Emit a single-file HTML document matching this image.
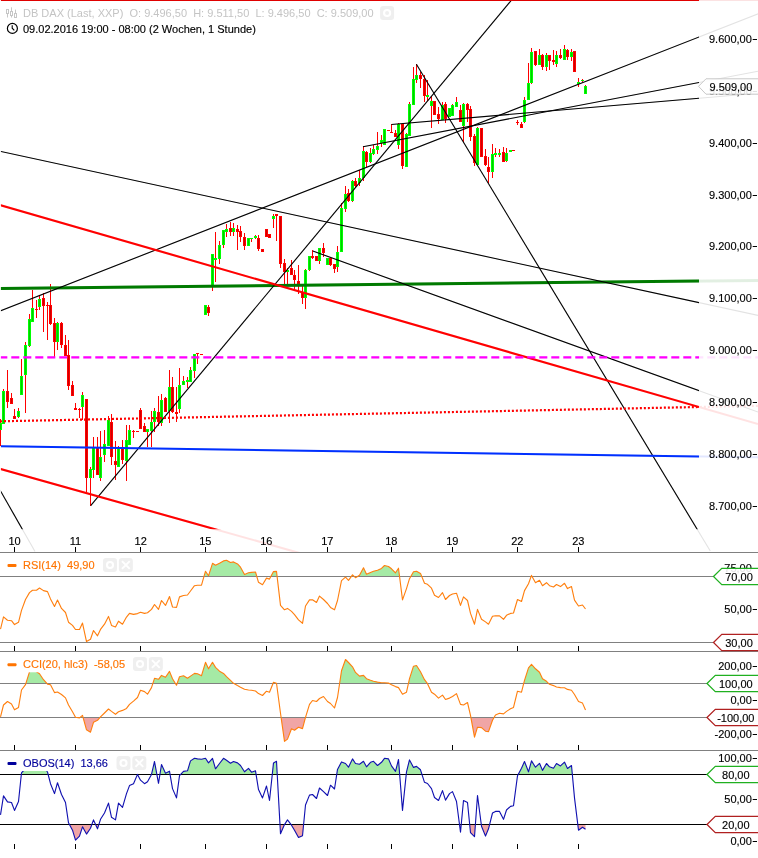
<!DOCTYPE html>
<html><head><meta charset="utf-8"><title>DB DAX</title>
<style>
html,body{margin:0;padding:0;background:#fff;}
body{width:758px;height:858px;overflow:hidden;font-family:"Liberation Sans",sans-serif;}
svg{display:block;will-change:transform}
svg text{font-family:"Liberation Sans",sans-serif;font-size:11px;}
svg text.k{stroke:#000;stroke-width:0.14px;}
</style></head><body>
<svg width="758" height="858" viewBox="0 0 758 858">
<rect width="758" height="858" fill="#fff"/>
<defs>
<clipPath id="plot"><rect x="0" y="0" width="699" height="529.2"/></clipPath>
<clipPath id="plotl"><rect x="1" y="0" width="698" height="529.2"/></clipPath>
<clipPath id="faint"><rect x="0" y="0" width="758" height="552"/></clipPath>
</defs>
<!-- faint extensions of trend lines outside plot area -->
<g opacity="0.11" clip-path="url(#faint)">
<line x1="0" y1="288.4" x2="758" y2="280.3753934191702" stroke="#007a00" stroke-width="3.0" />
<line x1="0" y1="151.3" x2="758" y2="315.3706723891273" stroke="#000" stroke-width="1.1" />
<line x1="0" y1="311" x2="790" y2="1.3290414878397314" stroke="#000" stroke-width="1.1" />
<line x1="90.7" y1="505.7" x2="511.6" y2="0" stroke="#000" stroke-width="1.1" />
<line x1="416.4" y1="64.3" x2="710.3" y2="551.0260513186029" stroke="#000" stroke-width="1.1" />
<line x1="363" y1="146.8" x2="758" y2="71.20922619047619" stroke="#000" stroke-width="1.1" />
<line x1="391.4" y1="124.5" x2="758" y2="93.27464239271782" stroke="#000" stroke-width="1.1" />
<line x1="312.8" y1="251" x2="758" y2="412.04205075090624" stroke="#000" stroke-width="1.1" />
<line x1="0" y1="490" x2="35" y2="551.5" stroke="#000" stroke-width="1.1" />
<line x1="0" y1="205" x2="758" y2="424.05007153075826" stroke="#f00" stroke-width="2.1" />
<line x1="0" y1="468.8" x2="300" y2="553.1157894736842" stroke="#f00" stroke-width="2.1" />
<line x1="-0.7" y1="357.3" x2="758" y2="357.3" stroke="#ff00ff" stroke-width="2.2" stroke-dasharray="8 4"/>
<line x1="0" y1="421.3" x2="758" y2="405.79298998569385" stroke="#f00" stroke-width="2.2" stroke-dasharray="2 2"/>
<line x1="0" y1="446.3" x2="758" y2="457.2525035765379" stroke="#0030ff" stroke-width="2.0" />
<line x1="0" y1="0" x2="758" y2="0" stroke="#e00000" stroke-width="2.2" />
</g>
<!-- main plot -->
<g clip-path="url(#plot)">
<g shape-rendering="crispEdges">
<rect x="0" y="419" width="1" height="27" fill="#ff0000"/>
<rect x="-1" y="423" width="3" height="7" fill="#00ff00"/>
<rect x="0" y="424" width="1" height="5" fill="#00cc00"/>
<rect x="3" y="389" width="1" height="35" fill="#ff0000"/>
<rect x="2" y="391" width="3" height="33" fill="#00ff00"/>
<rect x="3" y="392" width="1" height="31" fill="#00cc00"/>
<rect x="7" y="370" width="1" height="38" fill="#ff0000"/>
<rect x="6" y="391" width="3" height="11" fill="#ff0000"/>
<rect x="7" y="392" width="1" height="9" fill="#cc0000"/>
<rect x="11" y="393" width="1" height="11" fill="#ff0000"/>
<rect x="10" y="398" width="3" height="6" fill="#ff0000"/>
<rect x="11" y="399" width="1" height="4" fill="#cc0000"/>
<rect x="14" y="409" width="1" height="10" fill="#ff0000"/>
<rect x="13" y="416" width="3" height="3" fill="#ff0000"/>
<rect x="14" y="417" width="1" height="1" fill="#cc0000"/>
<rect x="18" y="408" width="1" height="10" fill="#ff0000"/>
<rect x="17" y="411" width="3" height="6" fill="#00ff00"/>
<rect x="18" y="412" width="1" height="4" fill="#00cc00"/>
<rect x="21" y="359" width="1" height="36" fill="#ff0000"/>
<rect x="20" y="376" width="3" height="19" fill="#00ff00"/>
<rect x="21" y="377" width="1" height="17" fill="#00cc00"/>
<rect x="25" y="342" width="1" height="71" fill="#ff0000"/>
<rect x="24" y="345" width="3" height="30" fill="#00ff00"/>
<rect x="25" y="346" width="1" height="28" fill="#00cc00"/>
<rect x="29" y="314" width="1" height="33" fill="#ff0000"/>
<rect x="28" y="319" width="3" height="27" fill="#00ff00"/>
<rect x="29" y="320" width="1" height="25" fill="#00cc00"/>
<rect x="32" y="290" width="1" height="32" fill="#ff0000"/>
<rect x="31" y="308" width="3" height="14" fill="#00ff00"/>
<rect x="32" y="309" width="1" height="12" fill="#00cc00"/>
<rect x="36" y="300" width="1" height="18" fill="#ff0000"/>
<rect x="35" y="309" width="3" height="1" fill="#ff0000"/>
<rect x="39" y="295" width="1" height="15" fill="#ff0000"/>
<rect x="38" y="299" width="3" height="8" fill="#00ff00"/>
<rect x="39" y="300" width="1" height="6" fill="#00cc00"/>
<rect x="43" y="293" width="1" height="39" fill="#ff0000"/>
<rect x="42" y="298" width="3" height="8" fill="#ff0000"/>
<rect x="43" y="299" width="1" height="6" fill="#cc0000"/>
<rect x="47" y="302" width="1" height="38" fill="#ff0000"/>
<rect x="46" y="305" width="3" height="1" fill="#ff0000"/>
<rect x="50" y="284" width="1" height="41" fill="#ff0000"/>
<rect x="49" y="305" width="3" height="19" fill="#ff0000"/>
<rect x="50" y="306" width="1" height="17" fill="#cc0000"/>
<rect x="54" y="318" width="1" height="40" fill="#ff0000"/>
<rect x="53" y="323" width="3" height="19" fill="#ff0000"/>
<rect x="54" y="324" width="1" height="17" fill="#cc0000"/>
<rect x="57" y="322" width="1" height="28" fill="#ff0000"/>
<rect x="56" y="323" width="3" height="19" fill="#00ff00"/>
<rect x="57" y="324" width="1" height="17" fill="#00cc00"/>
<rect x="61" y="322" width="1" height="26" fill="#ff0000"/>
<rect x="60" y="323" width="3" height="22" fill="#ff0000"/>
<rect x="61" y="324" width="1" height="20" fill="#cc0000"/>
<rect x="65" y="335" width="1" height="21" fill="#ff0000"/>
<rect x="64" y="345" width="3" height="11" fill="#ff0000"/>
<rect x="65" y="346" width="1" height="9" fill="#cc0000"/>
<rect x="68" y="340" width="1" height="50" fill="#ff0000"/>
<rect x="67" y="355" width="3" height="31" fill="#ff0000"/>
<rect x="68" y="356" width="1" height="29" fill="#cc0000"/>
<rect x="72" y="381" width="1" height="15" fill="#ff0000"/>
<rect x="71" y="385" width="3" height="11" fill="#ff0000"/>
<rect x="72" y="386" width="1" height="9" fill="#cc0000"/>
<rect x="75" y="403" width="1" height="7" fill="#ff0000"/>
<rect x="74" y="408" width="3" height="2" fill="#ff0000"/>
<rect x="79" y="408" width="1" height="10" fill="#ff0000"/>
<rect x="78" y="409" width="3" height="1" fill="#ff0000"/>
<rect x="82" y="392" width="1" height="28" fill="#ff0000"/>
<rect x="81" y="395" width="3" height="12" fill="#00ff00"/>
<rect x="82" y="396" width="1" height="10" fill="#00cc00"/>
<rect x="86" y="399" width="1" height="93" fill="#ff0000"/>
<rect x="85" y="399" width="3" height="79" fill="#ff0000"/>
<rect x="86" y="400" width="1" height="77" fill="#cc0000"/>
<rect x="90" y="467" width="1" height="39" fill="#ff0000"/>
<rect x="89" y="469" width="3" height="9" fill="#00ff00"/>
<rect x="90" y="470" width="1" height="7" fill="#00cc00"/>
<rect x="93" y="437" width="1" height="41" fill="#ff0000"/>
<rect x="92" y="447" width="3" height="23" fill="#00ff00"/>
<rect x="93" y="448" width="1" height="21" fill="#00cc00"/>
<rect x="97" y="437" width="1" height="38" fill="#ff0000"/>
<rect x="96" y="447" width="3" height="28" fill="#ff0000"/>
<rect x="97" y="448" width="1" height="26" fill="#cc0000"/>
<rect x="100" y="431" width="1" height="50" fill="#ff0000"/>
<rect x="99" y="457" width="3" height="21" fill="#00ff00"/>
<rect x="100" y="458" width="1" height="19" fill="#00cc00"/>
<rect x="104" y="430" width="1" height="32" fill="#ff0000"/>
<rect x="103" y="444" width="3" height="11" fill="#00ff00"/>
<rect x="104" y="445" width="1" height="9" fill="#00cc00"/>
<rect x="108" y="416" width="1" height="30" fill="#ff0000"/>
<rect x="107" y="420" width="3" height="26" fill="#00ff00"/>
<rect x="108" y="421" width="1" height="24" fill="#00cc00"/>
<rect x="111" y="414" width="1" height="51" fill="#ff0000"/>
<rect x="110" y="422" width="3" height="35" fill="#ff0000"/>
<rect x="111" y="423" width="1" height="33" fill="#cc0000"/>
<rect x="115" y="441" width="1" height="39" fill="#ff0000"/>
<rect x="114" y="461" width="3" height="4" fill="#ff0000"/>
<rect x="115" y="462" width="1" height="2" fill="#cc0000"/>
<rect x="118" y="446" width="1" height="21" fill="#ff0000"/>
<rect x="117" y="448" width="3" height="19" fill="#00ff00"/>
<rect x="118" y="449" width="1" height="17" fill="#00cc00"/>
<rect x="122" y="440" width="1" height="24" fill="#ff0000"/>
<rect x="121" y="447" width="3" height="13" fill="#ff0000"/>
<rect x="122" y="448" width="1" height="11" fill="#cc0000"/>
<rect x="126" y="425" width="1" height="56" fill="#ff0000"/>
<rect x="125" y="440" width="3" height="21" fill="#00ff00"/>
<rect x="126" y="441" width="1" height="19" fill="#00cc00"/>
<rect x="129" y="425" width="1" height="20" fill="#ff0000"/>
<rect x="128" y="430" width="3" height="15" fill="#00ff00"/>
<rect x="129" y="431" width="1" height="13" fill="#00cc00"/>
<rect x="133" y="430" width="1" height="8" fill="#ff0000"/>
<rect x="132" y="431" width="3" height="1" fill="#ff0000"/>
<rect x="137" y="431" width="1" height="1" fill="#ff0000"/>
<rect x="136" y="431" width="3" height="1" fill="#ff0000"/>
<rect x="140" y="408" width="1" height="21" fill="#ff0000"/>
<rect x="139" y="410" width="3" height="19" fill="#ff0000"/>
<rect x="140" y="411" width="1" height="17" fill="#cc0000"/>
<rect x="144" y="423" width="1" height="9" fill="#ff0000"/>
<rect x="143" y="426" width="3" height="6" fill="#ff0000"/>
<rect x="144" y="427" width="1" height="4" fill="#cc0000"/>
<rect x="147" y="429" width="1" height="18" fill="#ff0000"/>
<rect x="146" y="429" width="3" height="3" fill="#00ff00"/>
<rect x="147" y="430" width="1" height="1" fill="#00cc00"/>
<rect x="151" y="411" width="1" height="36" fill="#ff0000"/>
<rect x="150" y="422" width="3" height="9" fill="#00ff00"/>
<rect x="151" y="423" width="1" height="7" fill="#00cc00"/>
<rect x="154" y="408" width="1" height="24" fill="#ff0000"/>
<rect x="153" y="411" width="3" height="11" fill="#00ff00"/>
<rect x="154" y="412" width="1" height="9" fill="#00cc00"/>
<rect x="158" y="396" width="1" height="30" fill="#ff0000"/>
<rect x="157" y="412" width="3" height="10" fill="#ff0000"/>
<rect x="158" y="413" width="1" height="8" fill="#cc0000"/>
<rect x="161" y="394" width="1" height="32" fill="#ff0000"/>
<rect x="160" y="400" width="3" height="23" fill="#00ff00"/>
<rect x="161" y="401" width="1" height="21" fill="#00cc00"/>
<rect x="165" y="397" width="1" height="15" fill="#ff0000"/>
<rect x="164" y="398" width="3" height="14" fill="#ff0000"/>
<rect x="165" y="399" width="1" height="12" fill="#cc0000"/>
<rect x="169" y="370" width="1" height="53" fill="#ff0000"/>
<rect x="168" y="387" width="3" height="24" fill="#00ff00"/>
<rect x="169" y="388" width="1" height="22" fill="#00cc00"/>
<rect x="172" y="377" width="1" height="36" fill="#ff0000"/>
<rect x="171" y="387" width="3" height="25" fill="#ff0000"/>
<rect x="172" y="388" width="1" height="23" fill="#cc0000"/>
<rect x="176" y="387" width="1" height="35" fill="#ff0000"/>
<rect x="175" y="412" width="3" height="2" fill="#ff0000"/>
<rect x="179" y="368" width="1" height="45" fill="#ff0000"/>
<rect x="178" y="385" width="3" height="24" fill="#00ff00"/>
<rect x="179" y="386" width="1" height="22" fill="#00cc00"/>
<rect x="183" y="376" width="1" height="9" fill="#ff0000"/>
<rect x="182" y="381" width="3" height="4" fill="#00ff00"/>
<rect x="183" y="382" width="1" height="2" fill="#00cc00"/>
<rect x="187" y="377" width="1" height="11" fill="#ff0000"/>
<rect x="186" y="380" width="3" height="2" fill="#00ff00"/>
<rect x="190" y="367" width="1" height="15" fill="#ff0000"/>
<rect x="189" y="370" width="3" height="12" fill="#00ff00"/>
<rect x="190" y="371" width="1" height="10" fill="#00cc00"/>
<rect x="194" y="354" width="1" height="24" fill="#ff0000"/>
<rect x="193" y="354" width="3" height="17" fill="#00ff00"/>
<rect x="194" y="355" width="1" height="15" fill="#00cc00"/>
<rect x="197" y="353" width="1" height="11" fill="#ff0000"/>
<rect x="196" y="353" width="3" height="1" fill="#ff0000"/>
<rect x="201" y="354" width="1" height="1" fill="#ff0000"/>
<rect x="200" y="354" width="3" height="1" fill="#ff0000"/>
<rect x="205" y="305" width="1" height="10" fill="#ff0000"/>
<rect x="204" y="305" width="3" height="10" fill="#00ff00"/>
<rect x="205" y="306" width="1" height="8" fill="#00cc00"/>
<rect x="208" y="305" width="1" height="11" fill="#ff0000"/>
<rect x="207" y="307" width="3" height="6" fill="#ff0000"/>
<rect x="208" y="308" width="1" height="4" fill="#cc0000"/>
<rect x="212" y="254" width="1" height="37" fill="#ff0000"/>
<rect x="211" y="254" width="3" height="33" fill="#00ff00"/>
<rect x="212" y="255" width="1" height="31" fill="#00cc00"/>
<rect x="215" y="232" width="1" height="50" fill="#ff0000"/>
<rect x="214" y="258" width="3" height="2" fill="#00ff00"/>
<rect x="219" y="241" width="1" height="23" fill="#ff0000"/>
<rect x="218" y="245" width="3" height="14" fill="#00ff00"/>
<rect x="219" y="246" width="1" height="12" fill="#00cc00"/>
<rect x="223" y="230" width="1" height="18" fill="#ff0000"/>
<rect x="222" y="230" width="3" height="15" fill="#00ff00"/>
<rect x="223" y="231" width="1" height="13" fill="#00cc00"/>
<rect x="226" y="224" width="1" height="13" fill="#ff0000"/>
<rect x="225" y="229" width="3" height="3" fill="#00ff00"/>
<rect x="226" y="230" width="1" height="1" fill="#00cc00"/>
<rect x="230" y="222" width="1" height="14" fill="#ff0000"/>
<rect x="229" y="228" width="3" height="4" fill="#ff0000"/>
<rect x="230" y="229" width="1" height="2" fill="#cc0000"/>
<rect x="233" y="223" width="1" height="13" fill="#ff0000"/>
<rect x="232" y="228" width="3" height="4" fill="#00ff00"/>
<rect x="233" y="229" width="1" height="2" fill="#00cc00"/>
<rect x="237" y="225" width="1" height="25" fill="#ff0000"/>
<rect x="236" y="229" width="3" height="3" fill="#ff0000"/>
<rect x="237" y="230" width="1" height="1" fill="#cc0000"/>
<rect x="240" y="226" width="1" height="16" fill="#ff0000"/>
<rect x="239" y="231" width="3" height="6" fill="#ff0000"/>
<rect x="240" y="232" width="1" height="4" fill="#cc0000"/>
<rect x="244" y="233" width="1" height="17" fill="#ff0000"/>
<rect x="243" y="237" width="3" height="9" fill="#ff0000"/>
<rect x="244" y="238" width="1" height="7" fill="#cc0000"/>
<rect x="248" y="238" width="1" height="8" fill="#ff0000"/>
<rect x="247" y="238" width="3" height="8" fill="#00ff00"/>
<rect x="248" y="239" width="1" height="6" fill="#00cc00"/>
<rect x="251" y="238" width="1" height="4" fill="#ff0000"/>
<rect x="250" y="238" width="3" height="1" fill="#00ff00"/>
<rect x="255" y="235" width="1" height="4" fill="#ff0000"/>
<rect x="254" y="236" width="3" height="2" fill="#00ff00"/>
<rect x="258" y="235" width="1" height="16" fill="#ff0000"/>
<rect x="257" y="238" width="3" height="11" fill="#ff0000"/>
<rect x="258" y="239" width="1" height="9" fill="#cc0000"/>
<rect x="262" y="249" width="1" height="3" fill="#ff0000"/>
<rect x="261" y="249" width="3" height="3" fill="#ff0000"/>
<rect x="262" y="250" width="1" height="1" fill="#cc0000"/>
<rect x="266" y="229" width="1" height="8" fill="#ff0000"/>
<rect x="265" y="229" width="3" height="8" fill="#ff0000"/>
<rect x="266" y="230" width="1" height="6" fill="#cc0000"/>
<rect x="269" y="234" width="1" height="4" fill="#ff0000"/>
<rect x="268" y="234" width="3" height="4" fill="#ff0000"/>
<rect x="269" y="235" width="1" height="2" fill="#cc0000"/>
<rect x="273" y="214" width="1" height="14" fill="#ff0000"/>
<rect x="272" y="216" width="3" height="3" fill="#00ff00"/>
<rect x="273" y="217" width="1" height="1" fill="#00cc00"/>
<rect x="276" y="214" width="1" height="27" fill="#ff0000"/>
<rect x="275" y="214" width="3" height="2" fill="#ff0000"/>
<rect x="280" y="216" width="1" height="52" fill="#ff0000"/>
<rect x="279" y="216" width="3" height="48" fill="#ff0000"/>
<rect x="280" y="217" width="1" height="46" fill="#cc0000"/>
<rect x="284" y="259" width="1" height="25" fill="#ff0000"/>
<rect x="283" y="263" width="3" height="9" fill="#ff0000"/>
<rect x="284" y="264" width="1" height="7" fill="#cc0000"/>
<rect x="287" y="268" width="1" height="16" fill="#ff0000"/>
<rect x="286" y="270" width="3" height="2" fill="#00ff00"/>
<rect x="291" y="260" width="1" height="15" fill="#ff0000"/>
<rect x="290" y="268" width="3" height="7" fill="#ff0000"/>
<rect x="291" y="269" width="1" height="5" fill="#cc0000"/>
<rect x="294" y="270" width="1" height="20" fill="#ff0000"/>
<rect x="293" y="275" width="3" height="5" fill="#ff0000"/>
<rect x="294" y="276" width="1" height="3" fill="#cc0000"/>
<rect x="298" y="265" width="1" height="29" fill="#ff0000"/>
<rect x="297" y="281" width="3" height="3" fill="#ff0000"/>
<rect x="298" y="282" width="1" height="1" fill="#cc0000"/>
<rect x="302" y="284" width="1" height="20" fill="#ff0000"/>
<rect x="301" y="292" width="3" height="6" fill="#ff0000"/>
<rect x="302" y="293" width="1" height="4" fill="#cc0000"/>
<rect x="305" y="269" width="1" height="40" fill="#ff0000"/>
<rect x="304" y="270" width="3" height="28" fill="#00ff00"/>
<rect x="305" y="271" width="1" height="26" fill="#00cc00"/>
<rect x="309" y="256" width="1" height="15" fill="#ff0000"/>
<rect x="308" y="256" width="3" height="14" fill="#00ff00"/>
<rect x="309" y="257" width="1" height="12" fill="#00cc00"/>
<rect x="312" y="250" width="1" height="9" fill="#ff0000"/>
<rect x="311" y="256" width="3" height="2" fill="#ff0000"/>
<rect x="316" y="256" width="1" height="5" fill="#ff0000"/>
<rect x="315" y="256" width="3" height="5" fill="#ff0000"/>
<rect x="316" y="257" width="1" height="3" fill="#cc0000"/>
<rect x="319" y="248" width="1" height="16" fill="#ff0000"/>
<rect x="318" y="248" width="3" height="13" fill="#00ff00"/>
<rect x="319" y="249" width="1" height="11" fill="#00cc00"/>
<rect x="323" y="243" width="1" height="14" fill="#ff0000"/>
<rect x="322" y="248" width="3" height="5" fill="#ff0000"/>
<rect x="323" y="249" width="1" height="3" fill="#cc0000"/>
<rect x="327" y="258" width="1" height="7" fill="#ff0000"/>
<rect x="326" y="258" width="3" height="7" fill="#00ff00"/>
<rect x="327" y="259" width="1" height="5" fill="#00cc00"/>
<rect x="330" y="258" width="1" height="8" fill="#ff0000"/>
<rect x="329" y="258" width="3" height="7" fill="#ff0000"/>
<rect x="330" y="259" width="1" height="5" fill="#cc0000"/>
<rect x="334" y="264" width="1" height="9" fill="#ff0000"/>
<rect x="333" y="264" width="3" height="5" fill="#ff0000"/>
<rect x="334" y="265" width="1" height="3" fill="#cc0000"/>
<rect x="337" y="246" width="1" height="26" fill="#ff0000"/>
<rect x="336" y="252" width="3" height="15" fill="#00ff00"/>
<rect x="337" y="253" width="1" height="13" fill="#00cc00"/>
<rect x="341" y="203" width="1" height="49" fill="#ff0000"/>
<rect x="340" y="208" width="3" height="44" fill="#00ff00"/>
<rect x="341" y="209" width="1" height="42" fill="#00cc00"/>
<rect x="345" y="186" width="1" height="26" fill="#ff0000"/>
<rect x="344" y="194" width="3" height="15" fill="#00ff00"/>
<rect x="345" y="195" width="1" height="13" fill="#00cc00"/>
<rect x="348" y="189" width="1" height="13" fill="#ff0000"/>
<rect x="347" y="193" width="3" height="8" fill="#ff0000"/>
<rect x="348" y="194" width="1" height="6" fill="#cc0000"/>
<rect x="352" y="180" width="1" height="22" fill="#ff0000"/>
<rect x="351" y="181" width="3" height="20" fill="#00ff00"/>
<rect x="352" y="182" width="1" height="18" fill="#00cc00"/>
<rect x="355" y="178" width="1" height="10" fill="#ff0000"/>
<rect x="354" y="181" width="3" height="5" fill="#ff0000"/>
<rect x="355" y="182" width="1" height="3" fill="#cc0000"/>
<rect x="359" y="170" width="1" height="16" fill="#ff0000"/>
<rect x="358" y="178" width="3" height="5" fill="#00ff00"/>
<rect x="359" y="179" width="1" height="3" fill="#00cc00"/>
<rect x="363" y="146" width="1" height="35" fill="#ff0000"/>
<rect x="362" y="151" width="3" height="27" fill="#00ff00"/>
<rect x="363" y="152" width="1" height="25" fill="#00cc00"/>
<rect x="366" y="151" width="1" height="16" fill="#ff0000"/>
<rect x="365" y="152" width="3" height="10" fill="#ff0000"/>
<rect x="366" y="153" width="1" height="8" fill="#cc0000"/>
<rect x="370" y="148" width="1" height="15" fill="#ff0000"/>
<rect x="369" y="153" width="3" height="9" fill="#00ff00"/>
<rect x="370" y="154" width="1" height="7" fill="#00cc00"/>
<rect x="373" y="145" width="1" height="10" fill="#ff0000"/>
<rect x="372" y="149" width="3" height="5" fill="#00ff00"/>
<rect x="373" y="150" width="1" height="3" fill="#00cc00"/>
<rect x="377" y="132" width="1" height="22" fill="#ff0000"/>
<rect x="376" y="146" width="3" height="4" fill="#00ff00"/>
<rect x="377" y="147" width="1" height="2" fill="#00cc00"/>
<rect x="381" y="135" width="1" height="12" fill="#ff0000"/>
<rect x="380" y="140" width="3" height="3" fill="#00ff00"/>
<rect x="381" y="141" width="1" height="1" fill="#00cc00"/>
<rect x="384" y="129" width="1" height="16" fill="#ff0000"/>
<rect x="383" y="129" width="3" height="16" fill="#00ff00"/>
<rect x="384" y="130" width="1" height="14" fill="#00cc00"/>
<rect x="388" y="130" width="1" height="1" fill="#ff0000"/>
<rect x="387" y="130" width="3" height="1" fill="#ff0000"/>
<rect x="391" y="124" width="1" height="9" fill="#ff0000"/>
<rect x="390" y="132" width="3" height="1" fill="#ff0000"/>
<rect x="395" y="130" width="1" height="7" fill="#ff0000"/>
<rect x="394" y="133" width="3" height="4" fill="#ff0000"/>
<rect x="395" y="134" width="1" height="2" fill="#cc0000"/>
<rect x="398" y="123" width="1" height="26" fill="#ff0000"/>
<rect x="397" y="124" width="3" height="21" fill="#00ff00"/>
<rect x="398" y="125" width="1" height="19" fill="#00cc00"/>
<rect x="402" y="124" width="1" height="45" fill="#ff0000"/>
<rect x="401" y="124" width="3" height="42" fill="#ff0000"/>
<rect x="402" y="125" width="1" height="40" fill="#cc0000"/>
<rect x="406" y="133" width="1" height="34" fill="#ff0000"/>
<rect x="405" y="134" width="3" height="33" fill="#00ff00"/>
<rect x="406" y="135" width="1" height="31" fill="#00cc00"/>
<rect x="409" y="102" width="1" height="34" fill="#ff0000"/>
<rect x="408" y="104" width="3" height="32" fill="#00ff00"/>
<rect x="409" y="105" width="1" height="30" fill="#00cc00"/>
<rect x="413" y="67" width="1" height="38" fill="#ff0000"/>
<rect x="412" y="79" width="3" height="26" fill="#00ff00"/>
<rect x="413" y="80" width="1" height="24" fill="#00cc00"/>
<rect x="416" y="64" width="1" height="19" fill="#ff0000"/>
<rect x="415" y="75" width="3" height="5" fill="#00ff00"/>
<rect x="416" y="76" width="1" height="3" fill="#00cc00"/>
<rect x="420" y="72" width="1" height="16" fill="#ff0000"/>
<rect x="419" y="75" width="3" height="4" fill="#ff0000"/>
<rect x="420" y="76" width="1" height="2" fill="#cc0000"/>
<rect x="424" y="75" width="1" height="27" fill="#ff0000"/>
<rect x="423" y="79" width="3" height="17" fill="#ff0000"/>
<rect x="424" y="80" width="1" height="15" fill="#cc0000"/>
<rect x="427" y="80" width="1" height="21" fill="#ff0000"/>
<rect x="426" y="95" width="3" height="2" fill="#00ff00"/>
<rect x="431" y="96" width="1" height="32" fill="#ff0000"/>
<rect x="430" y="101" width="3" height="5" fill="#00ff00"/>
<rect x="431" y="102" width="1" height="3" fill="#00cc00"/>
<rect x="434" y="101" width="1" height="14" fill="#ff0000"/>
<rect x="433" y="101" width="3" height="14" fill="#ff0000"/>
<rect x="434" y="102" width="1" height="12" fill="#cc0000"/>
<rect x="438" y="107" width="1" height="17" fill="#ff0000"/>
<rect x="437" y="114" width="3" height="5" fill="#ff0000"/>
<rect x="438" y="115" width="1" height="3" fill="#cc0000"/>
<rect x="442" y="102" width="1" height="18" fill="#ff0000"/>
<rect x="441" y="105" width="3" height="15" fill="#00ff00"/>
<rect x="442" y="106" width="1" height="13" fill="#00cc00"/>
<rect x="445" y="102" width="1" height="21" fill="#ff0000"/>
<rect x="444" y="104" width="3" height="15" fill="#ff0000"/>
<rect x="445" y="105" width="1" height="13" fill="#cc0000"/>
<rect x="449" y="108" width="1" height="9" fill="#ff0000"/>
<rect x="448" y="108" width="3" height="9" fill="#00ff00"/>
<rect x="449" y="109" width="1" height="7" fill="#00cc00"/>
<rect x="452" y="104" width="1" height="12" fill="#ff0000"/>
<rect x="451" y="105" width="3" height="11" fill="#00ff00"/>
<rect x="452" y="106" width="1" height="9" fill="#00cc00"/>
<rect x="456" y="97" width="1" height="10" fill="#ff0000"/>
<rect x="455" y="102" width="3" height="5" fill="#00ff00"/>
<rect x="456" y="103" width="1" height="3" fill="#00cc00"/>
<rect x="460" y="105" width="1" height="17" fill="#ff0000"/>
<rect x="459" y="110" width="3" height="12" fill="#ff0000"/>
<rect x="460" y="111" width="1" height="10" fill="#cc0000"/>
<rect x="463" y="103" width="1" height="39" fill="#ff0000"/>
<rect x="462" y="104" width="3" height="22" fill="#00ff00"/>
<rect x="463" y="105" width="1" height="20" fill="#00cc00"/>
<rect x="467" y="103" width="1" height="19" fill="#ff0000"/>
<rect x="466" y="104" width="3" height="6" fill="#ff0000"/>
<rect x="467" y="105" width="1" height="4" fill="#cc0000"/>
<rect x="470" y="106" width="1" height="35" fill="#ff0000"/>
<rect x="469" y="109" width="3" height="28" fill="#ff0000"/>
<rect x="470" y="110" width="1" height="26" fill="#cc0000"/>
<rect x="474" y="134" width="1" height="32" fill="#ff0000"/>
<rect x="473" y="136" width="3" height="27" fill="#ff0000"/>
<rect x="474" y="137" width="1" height="25" fill="#cc0000"/>
<rect x="477" y="127" width="1" height="38" fill="#ff0000"/>
<rect x="476" y="128" width="3" height="37" fill="#00ff00"/>
<rect x="477" y="129" width="1" height="35" fill="#00cc00"/>
<rect x="481" y="128" width="1" height="29" fill="#ff0000"/>
<rect x="480" y="128" width="3" height="29" fill="#ff0000"/>
<rect x="481" y="129" width="1" height="27" fill="#cc0000"/>
<rect x="485" y="149" width="1" height="17" fill="#ff0000"/>
<rect x="484" y="156" width="3" height="9" fill="#ff0000"/>
<rect x="485" y="157" width="1" height="7" fill="#cc0000"/>
<rect x="488" y="157" width="1" height="26" fill="#ff0000"/>
<rect x="487" y="167" width="3" height="5" fill="#ff0000"/>
<rect x="488" y="168" width="1" height="3" fill="#cc0000"/>
<rect x="492" y="144" width="1" height="34" fill="#ff0000"/>
<rect x="491" y="154" width="3" height="18" fill="#00ff00"/>
<rect x="492" y="155" width="1" height="16" fill="#00cc00"/>
<rect x="495" y="148" width="1" height="9" fill="#ff0000"/>
<rect x="494" y="153" width="3" height="2" fill="#00ff00"/>
<rect x="499" y="149" width="1" height="8" fill="#ff0000"/>
<rect x="498" y="153" width="3" height="2" fill="#00ff00"/>
<rect x="503" y="147" width="1" height="15" fill="#ff0000"/>
<rect x="502" y="152" width="3" height="10" fill="#ff0000"/>
<rect x="503" y="153" width="1" height="8" fill="#cc0000"/>
<rect x="506" y="148" width="1" height="14" fill="#ff0000"/>
<rect x="505" y="153" width="3" height="8" fill="#00ff00"/>
<rect x="506" y="154" width="1" height="6" fill="#00cc00"/>
<rect x="510" y="150" width="1" height="2" fill="#ff0000"/>
<rect x="509" y="150" width="3" height="2" fill="#00ff00"/>
<rect x="513" y="150" width="1" height="1" fill="#ff0000"/>
<rect x="512" y="150" width="3" height="1" fill="#ff0000"/>
<rect x="517" y="120" width="1" height="5" fill="#ff0000"/>
<rect x="516" y="122" width="3" height="1" fill="#ff0000"/>
<rect x="521" y="122" width="1" height="6" fill="#ff0000"/>
<rect x="520" y="124" width="3" height="4" fill="#ff0000"/>
<rect x="521" y="125" width="1" height="2" fill="#cc0000"/>
<rect x="524" y="97" width="1" height="26" fill="#ff0000"/>
<rect x="523" y="100" width="3" height="22" fill="#00ff00"/>
<rect x="524" y="101" width="1" height="20" fill="#00cc00"/>
<rect x="528" y="63" width="1" height="37" fill="#ff0000"/>
<rect x="527" y="83" width="3" height="17" fill="#00ff00"/>
<rect x="528" y="84" width="1" height="15" fill="#00cc00"/>
<rect x="531" y="48" width="1" height="36" fill="#ff0000"/>
<rect x="530" y="52" width="3" height="31" fill="#00ff00"/>
<rect x="531" y="53" width="1" height="29" fill="#00cc00"/>
<rect x="535" y="51" width="1" height="15" fill="#ff0000"/>
<rect x="534" y="51" width="3" height="14" fill="#ff0000"/>
<rect x="535" y="52" width="1" height="12" fill="#cc0000"/>
<rect x="539" y="49" width="1" height="16" fill="#ff0000"/>
<rect x="538" y="55" width="3" height="10" fill="#00ff00"/>
<rect x="539" y="56" width="1" height="8" fill="#00cc00"/>
<rect x="542" y="54" width="1" height="16" fill="#ff0000"/>
<rect x="541" y="55" width="3" height="12" fill="#ff0000"/>
<rect x="542" y="56" width="1" height="10" fill="#cc0000"/>
<rect x="546" y="53" width="1" height="18" fill="#ff0000"/>
<rect x="545" y="55" width="3" height="12" fill="#00ff00"/>
<rect x="546" y="56" width="1" height="10" fill="#00cc00"/>
<rect x="549" y="55" width="1" height="15" fill="#ff0000"/>
<rect x="548" y="55" width="3" height="6" fill="#ff0000"/>
<rect x="549" y="56" width="1" height="4" fill="#cc0000"/>
<rect x="553" y="50" width="1" height="15" fill="#ff0000"/>
<rect x="552" y="60" width="3" height="2" fill="#ff0000"/>
<rect x="556" y="51" width="1" height="16" fill="#ff0000"/>
<rect x="555" y="55" width="3" height="9" fill="#00ff00"/>
<rect x="556" y="56" width="1" height="7" fill="#00cc00"/>
<rect x="560" y="49" width="1" height="10" fill="#ff0000"/>
<rect x="559" y="55" width="3" height="3" fill="#ff0000"/>
<rect x="560" y="56" width="1" height="1" fill="#cc0000"/>
<rect x="564" y="45" width="1" height="15" fill="#ff0000"/>
<rect x="563" y="49" width="3" height="11" fill="#00ff00"/>
<rect x="564" y="50" width="1" height="9" fill="#00cc00"/>
<rect x="567" y="49" width="1" height="11" fill="#ff0000"/>
<rect x="566" y="50" width="3" height="7" fill="#ff0000"/>
<rect x="567" y="51" width="1" height="5" fill="#cc0000"/>
<rect x="571" y="49" width="1" height="12" fill="#ff0000"/>
<rect x="570" y="52" width="3" height="5" fill="#00ff00"/>
<rect x="571" y="53" width="1" height="3" fill="#00cc00"/>
<rect x="574" y="51" width="1" height="21" fill="#ff0000"/>
<rect x="573" y="51" width="3" height="21" fill="#ff0000"/>
<rect x="574" y="52" width="1" height="19" fill="#cc0000"/>
<rect x="578" y="78" width="1" height="9" fill="#ff0000"/>
<rect x="577" y="82" width="3" height="2" fill="#00ff00"/>
<rect x="582" y="79" width="1" height="3" fill="#ff0000"/>
<rect x="581" y="80" width="3" height="1" fill="#00ff00"/>
<rect x="585" y="85" width="1" height="9" fill="#ff0000"/>
<rect x="584" y="86" width="3" height="8" fill="#00ff00"/>
<rect x="585" y="87" width="1" height="6" fill="#00cc00"/>
</g>
</g>
<g clip-path="url(#plotl)">
<line x1="0" y1="288.4" x2="758" y2="280.3753934191702" stroke="#007a00" stroke-width="3.0" />
<line x1="0" y1="151.3" x2="758" y2="315.3706723891273" stroke="#000" stroke-width="1.1" />
<line x1="0" y1="311" x2="790" y2="1.3290414878397314" stroke="#000" stroke-width="1.1" />
<line x1="90.7" y1="505.7" x2="511.6" y2="0" stroke="#000" stroke-width="1.1" />
<line x1="416.4" y1="64.3" x2="710.3" y2="551.0260513186029" stroke="#000" stroke-width="1.1" />
<line x1="363" y1="146.8" x2="758" y2="71.20922619047619" stroke="#000" stroke-width="1.1" />
<line x1="391.4" y1="124.5" x2="758" y2="93.27464239271782" stroke="#000" stroke-width="1.1" />
<line x1="312.8" y1="251" x2="758" y2="412.04205075090624" stroke="#000" stroke-width="1.1" />
<line x1="0" y1="490" x2="35" y2="551.5" stroke="#000" stroke-width="1.1" />
<line x1="0" y1="205" x2="758" y2="424.05007153075826" stroke="#f00" stroke-width="2.1" />
<line x1="0" y1="468.8" x2="300" y2="553.1157894736842" stroke="#f00" stroke-width="2.1" />
<line x1="-0.7" y1="357.3" x2="758" y2="357.3" stroke="#ff00ff" stroke-width="2.2" stroke-dasharray="8 4"/>
<line x1="0" y1="421.3" x2="758" y2="405.79298998569385" stroke="#f00" stroke-width="2.2" stroke-dasharray="2 2"/>
<line x1="0" y1="446.3" x2="758" y2="457.2525035765379" stroke="#0030ff" stroke-width="2.0" />
<line x1="0" y1="0" x2="758" y2="0" stroke="#e00000" stroke-width="2.2" />
</g>
<!-- title -->
<g fill="none" stroke="#c6c6c6" stroke-width="1">
<path d="M7.5,13.5 V17.5 M11.5,7.3 V11.2 M11.5,15.8 V17.5 M15.5,9.6 V13.5"/>
<rect x="6.5" y="9.5" width="2" height="4"/>
<rect x="10.5" y="11.5" width="2" height="4"/>
<rect x="14.5" y="13.5" width="2" height="4"/>
</g>
<text x="23" y="16.8" text-anchor="start" fill="#c4c4c4" xml:space="preserve" textLength="350.6">DB DAX (Last, XXP)&#160; O: 9.496,50&#160; H: 9.511,50&#160; L: 9.496,50&#160; C: 9.509,00</text>
<rect x="380.1" y="6" width="14" height="14" rx="3.2" fill="#efefef"/><circle cx="387.1" cy="13" r="3.05" fill="none" stroke="#fff" stroke-width="2.1"/>
<circle cx="12.4" cy="28.4" r="5" fill="none" stroke="#000" stroke-width="1.2"/>
<path d="M12.2,25.3 V28.2 L14.3,30.4" fill="none" stroke="#000" stroke-width="1.1"/>
<text stroke="#000" stroke-width="0.14" x="23" y="32.7" text-anchor="start" fill="#000" >09.02.2016 19:00 - 08:00 (2 Wochen, 1 Stunde)</text>
<!-- axes -->
<text stroke="#000" stroke-width="0.14" x="751.8" y="43" text-anchor="end" fill="#000" >9.600,00</text>
<rect x="752.7" y="39" width="4.3" height="1" fill="#000"/>
<text stroke="#000" stroke-width="0.14" x="751.8" y="95" text-anchor="end" fill="#000" >9.500,00</text>
<rect x="752.7" y="91" width="4.3" height="1" fill="#000"/>
<text stroke="#000" stroke-width="0.14" x="751.8" y="146.9" text-anchor="end" fill="#000" >9.400,00</text>
<rect x="752.7" y="143" width="4.3" height="1" fill="#000"/>
<text stroke="#000" stroke-width="0.14" x="751.8" y="198.8" text-anchor="end" fill="#000" >9.300,00</text>
<rect x="752.7" y="195" width="4.3" height="1" fill="#000"/>
<text stroke="#000" stroke-width="0.14" x="751.8" y="249.9" text-anchor="end" fill="#000" >9.200,00</text>
<rect x="752.7" y="246" width="4.3" height="1" fill="#000"/>
<text stroke="#000" stroke-width="0.14" x="751.8" y="302" text-anchor="end" fill="#000" >9.100,00</text>
<rect x="752.7" y="298" width="4.3" height="1" fill="#000"/>
<text stroke="#000" stroke-width="0.14" x="751.8" y="353.7" text-anchor="end" fill="#000" >9.000,00</text>
<rect x="752.7" y="350" width="4.3" height="1" fill="#000"/>
<text stroke="#000" stroke-width="0.14" x="751.8" y="405.8" text-anchor="end" fill="#000" >8.900,00</text>
<rect x="752.7" y="402" width="4.3" height="1" fill="#000"/>
<text stroke="#000" stroke-width="0.14" x="751.8" y="458.4" text-anchor="end" fill="#000" >8.800,00</text>
<rect x="752.7" y="454" width="4.3" height="1" fill="#000"/>
<text stroke="#000" stroke-width="0.14" x="751.8" y="510" text-anchor="end" fill="#000" >8.700,00</text>
<rect x="752.7" y="506" width="4.3" height="1" fill="#000"/>
<polygon points="698.5,86.3 706,78.8 760,78.8 760,94.2 706,94.2" fill="#fff" fill-opacity="0.88" stroke="#c8c8c8" stroke-width="1"/>
<text stroke="#000" stroke-width="0.14" x="730.9" y="90.8" text-anchor="middle" fill="#000" >9.509,00</text>
<text stroke="#000" stroke-width="0.14" x="14.600000000000001" y="545" text-anchor="middle" fill="#000" >10</text>
<rect x="14" y="547" width="1" height="5" fill="#000"/>
<rect x="14" y="646" width="1" height="5" fill="#000"/>
<rect x="14" y="745" width="1" height="5" fill="#000"/>
<rect x="14" y="844" width="1" height="5" fill="#000"/>
<text stroke="#000" stroke-width="0.14" x="75.5" y="545" text-anchor="middle" fill="#000" >11</text>
<rect x="75" y="547" width="1" height="5" fill="#000"/>
<rect x="75" y="646" width="1" height="5" fill="#000"/>
<rect x="75" y="745" width="1" height="5" fill="#000"/>
<rect x="75" y="844" width="1" height="5" fill="#000"/>
<text stroke="#000" stroke-width="0.14" x="140.70000000000002" y="545" text-anchor="middle" fill="#000" >12</text>
<rect x="140" y="547" width="1" height="5" fill="#000"/>
<rect x="140" y="646" width="1" height="5" fill="#000"/>
<rect x="140" y="745" width="1" height="5" fill="#000"/>
<rect x="140" y="844" width="1" height="5" fill="#000"/>
<text stroke="#000" stroke-width="0.14" x="205.3" y="545" text-anchor="middle" fill="#000" >15</text>
<rect x="205" y="547" width="1" height="5" fill="#000"/>
<rect x="205" y="646" width="1" height="5" fill="#000"/>
<rect x="205" y="745" width="1" height="5" fill="#000"/>
<rect x="205" y="844" width="1" height="5" fill="#000"/>
<text stroke="#000" stroke-width="0.14" x="266.3" y="545" text-anchor="middle" fill="#000" >16</text>
<rect x="266" y="547" width="1" height="5" fill="#000"/>
<rect x="266" y="646" width="1" height="5" fill="#000"/>
<rect x="266" y="745" width="1" height="5" fill="#000"/>
<rect x="266" y="844" width="1" height="5" fill="#000"/>
<text stroke="#000" stroke-width="0.14" x="327.3" y="545" text-anchor="middle" fill="#000" >17</text>
<rect x="327" y="547" width="1" height="5" fill="#000"/>
<rect x="327" y="646" width="1" height="5" fill="#000"/>
<rect x="327" y="745" width="1" height="5" fill="#000"/>
<rect x="327" y="844" width="1" height="5" fill="#000"/>
<text stroke="#000" stroke-width="0.14" x="391.3" y="545" text-anchor="middle" fill="#000" >18</text>
<rect x="391" y="547" width="1" height="5" fill="#000"/>
<rect x="391" y="646" width="1" height="5" fill="#000"/>
<rect x="391" y="745" width="1" height="5" fill="#000"/>
<rect x="391" y="844" width="1" height="5" fill="#000"/>
<text stroke="#000" stroke-width="0.14" x="452.3" y="545" text-anchor="middle" fill="#000" >19</text>
<rect x="452" y="547" width="1" height="5" fill="#000"/>
<rect x="452" y="646" width="1" height="5" fill="#000"/>
<rect x="452" y="745" width="1" height="5" fill="#000"/>
<rect x="452" y="844" width="1" height="5" fill="#000"/>
<text stroke="#000" stroke-width="0.14" x="517.3" y="545" text-anchor="middle" fill="#000" >22</text>
<rect x="517" y="547" width="1" height="5" fill="#000"/>
<rect x="517" y="646" width="1" height="5" fill="#000"/>
<rect x="517" y="745" width="1" height="5" fill="#000"/>
<rect x="517" y="844" width="1" height="5" fill="#000"/>
<text stroke="#000" stroke-width="0.14" x="578.3" y="545" text-anchor="middle" fill="#000" >23</text>
<rect x="578" y="547" width="1" height="5" fill="#000"/>
<rect x="578" y="646" width="1" height="5" fill="#000"/>
<rect x="578" y="745" width="1" height="5" fill="#000"/>
<rect x="578" y="844" width="1" height="5" fill="#000"/>
<rect x="0" y="552" width="758" height="1" fill="#808080"/>
<rect x="0" y="651" width="758" height="1" fill="#808080"/>
<rect x="0" y="750" width="758" height="1" fill="#808080"/>
<clipPath id="upr"><rect x="0" y="552" width="699" height="24.5"/></clipPath>
<clipPath id="dnr"><rect x="0" y="642.5" width="699" height="8.5"/></clipPath>
<polygon points="0.5,576.5 0.5,629.2 3.5,616.9 7.5,620.3 11.5,620.7 14.5,624.6 18.5,622.3 21.5,610.4 25.5,599.5 29.5,592.6 32.5,590.2 36.5,590.2 39.5,588.0 43.5,590.6 47.5,591.6 50.5,598.9 54.5,606.4 57.5,600.1 61.5,608.4 65.5,612.5 68.5,622.2 72.5,625.4 75.5,629.5 79.5,629.5 82.5,623.1 86.5,641.6 90.5,639.2 93.5,630.5 97.5,635.8 100.5,629.4 104.5,624.2 108.5,616.4 111.5,625.4 115.5,627.0 118.5,621.2 122.5,624.2 126.5,617.1 129.5,613.4 133.5,614.4 137.5,613.6 140.5,612.2 144.5,613.4 147.5,612.8 151.5,609.4 154.5,604.5 158.5,609.4 161.5,600.5 165.5,605.4 169.5,596.5 172.5,607.0 176.5,607.4 179.5,596.9 183.5,595.5 187.5,595.0 190.5,591.0 194.5,585.7 197.5,585.3 201.5,585.1 205.5,571.2 208.5,575.8 212.5,563.3 215.5,565.3 219.5,563.3 223.5,560.9 226.5,560.3 230.5,562.5 233.5,561.9 237.5,563.9 240.5,567.2 244.5,574.4 248.5,572.8 251.5,572.4 255.5,572.0 258.5,582.3 262.5,584.7 266.5,578.1 269.5,579.1 273.5,571.6 276.5,571.4 280.5,605.4 284.5,609.8 287.5,608.4 291.5,611.4 294.5,614.7 298.5,619.9 302.5,623.3 305.5,606.0 309.5,599.9 312.5,599.7 316.5,602.5 319.5,596.1 323.5,599.5 327.5,603.5 330.5,607.4 334.5,609.8 337.5,600.5 341.5,580.7 345.5,577.1 348.5,580.3 352.5,574.8 355.5,577.7 359.5,575.2 363.5,567.8 366.5,574.2 370.5,572.4 373.5,571.2 377.5,570.2 381.5,568.4 384.5,565.5 388.5,566.5 391.5,568.8 395.5,572.8 398.5,568.2 402.5,599.9 406.5,588.6 409.5,578.7 413.5,571.8 416.5,571.2 420.5,573.4 424.5,583.3 427.5,584.3 431.5,588.2 434.5,595.2 438.5,597.5 442.5,592.6 445.5,599.5 449.5,595.5 452.5,594.0 456.5,593.2 460.5,605.4 463.5,596.9 467.5,600.5 470.5,613.4 474.5,624.2 477.5,609.4 481.5,619.3 485.5,621.9 488.5,624.2 492.5,616.3 495.5,615.7 499.5,615.9 503.5,619.3 506.5,615.3 510.5,613.4 513.5,613.0 517.5,599.5 521.5,601.5 524.5,590.6 528.5,583.7 531.5,575.4 535.5,582.7 539.5,580.3 542.5,585.7 546.5,582.7 549.5,585.7 553.5,587.0 556.5,584.5 560.5,586.6 564.5,583.3 567.5,588.6 571.5,586.6 574.5,600.1 578.5,606.0 582.5,605.0 585.5,609.0 585.5,576.5" fill="#a5eaa5" clip-path="url(#upr)"/>
<polygon points="0.5,642.5 0.5,629.2 3.5,616.9 7.5,620.3 11.5,620.7 14.5,624.6 18.5,622.3 21.5,610.4 25.5,599.5 29.5,592.6 32.5,590.2 36.5,590.2 39.5,588.0 43.5,590.6 47.5,591.6 50.5,598.9 54.5,606.4 57.5,600.1 61.5,608.4 65.5,612.5 68.5,622.2 72.5,625.4 75.5,629.5 79.5,629.5 82.5,623.1 86.5,641.6 90.5,639.2 93.5,630.5 97.5,635.8 100.5,629.4 104.5,624.2 108.5,616.4 111.5,625.4 115.5,627.0 118.5,621.2 122.5,624.2 126.5,617.1 129.5,613.4 133.5,614.4 137.5,613.6 140.5,612.2 144.5,613.4 147.5,612.8 151.5,609.4 154.5,604.5 158.5,609.4 161.5,600.5 165.5,605.4 169.5,596.5 172.5,607.0 176.5,607.4 179.5,596.9 183.5,595.5 187.5,595.0 190.5,591.0 194.5,585.7 197.5,585.3 201.5,585.1 205.5,571.2 208.5,575.8 212.5,563.3 215.5,565.3 219.5,563.3 223.5,560.9 226.5,560.3 230.5,562.5 233.5,561.9 237.5,563.9 240.5,567.2 244.5,574.4 248.5,572.8 251.5,572.4 255.5,572.0 258.5,582.3 262.5,584.7 266.5,578.1 269.5,579.1 273.5,571.6 276.5,571.4 280.5,605.4 284.5,609.8 287.5,608.4 291.5,611.4 294.5,614.7 298.5,619.9 302.5,623.3 305.5,606.0 309.5,599.9 312.5,599.7 316.5,602.5 319.5,596.1 323.5,599.5 327.5,603.5 330.5,607.4 334.5,609.8 337.5,600.5 341.5,580.7 345.5,577.1 348.5,580.3 352.5,574.8 355.5,577.7 359.5,575.2 363.5,567.8 366.5,574.2 370.5,572.4 373.5,571.2 377.5,570.2 381.5,568.4 384.5,565.5 388.5,566.5 391.5,568.8 395.5,572.8 398.5,568.2 402.5,599.9 406.5,588.6 409.5,578.7 413.5,571.8 416.5,571.2 420.5,573.4 424.5,583.3 427.5,584.3 431.5,588.2 434.5,595.2 438.5,597.5 442.5,592.6 445.5,599.5 449.5,595.5 452.5,594.0 456.5,593.2 460.5,605.4 463.5,596.9 467.5,600.5 470.5,613.4 474.5,624.2 477.5,609.4 481.5,619.3 485.5,621.9 488.5,624.2 492.5,616.3 495.5,615.7 499.5,615.9 503.5,619.3 506.5,615.3 510.5,613.4 513.5,613.0 517.5,599.5 521.5,601.5 524.5,590.6 528.5,583.7 531.5,575.4 535.5,582.7 539.5,580.3 542.5,585.7 546.5,582.7 549.5,585.7 553.5,587.0 556.5,584.5 560.5,586.6 564.5,583.3 567.5,588.6 571.5,586.6 574.5,600.1 578.5,606.0 582.5,605.0 585.5,609.0 585.5,642.5" fill="#f0a5a5" clip-path="url(#dnr)"/>
<rect x="0" y="576.0" width="713.5" height="1" fill="#808080"/>
<rect x="0" y="642.0" width="713.5" height="1" fill="#808080"/>
<polyline points="0.5,629.2 3.5,616.9 7.5,620.3 11.5,620.7 14.5,624.6 18.5,622.3 21.5,610.4 25.5,599.5 29.5,592.6 32.5,590.2 36.5,590.2 39.5,588.0 43.5,590.6 47.5,591.6 50.5,598.9 54.5,606.4 57.5,600.1 61.5,608.4 65.5,612.5 68.5,622.2 72.5,625.4 75.5,629.5 79.5,629.5 82.5,623.1 86.5,641.6 90.5,639.2 93.5,630.5 97.5,635.8 100.5,629.4 104.5,624.2 108.5,616.4 111.5,625.4 115.5,627.0 118.5,621.2 122.5,624.2 126.5,617.1 129.5,613.4 133.5,614.4 137.5,613.6 140.5,612.2 144.5,613.4 147.5,612.8 151.5,609.4 154.5,604.5 158.5,609.4 161.5,600.5 165.5,605.4 169.5,596.5 172.5,607.0 176.5,607.4 179.5,596.9 183.5,595.5 187.5,595.0 190.5,591.0 194.5,585.7 197.5,585.3 201.5,585.1 205.5,571.2 208.5,575.8 212.5,563.3 215.5,565.3 219.5,563.3 223.5,560.9 226.5,560.3 230.5,562.5 233.5,561.9 237.5,563.9 240.5,567.2 244.5,574.4 248.5,572.8 251.5,572.4 255.5,572.0 258.5,582.3 262.5,584.7 266.5,578.1 269.5,579.1 273.5,571.6 276.5,571.4 280.5,605.4 284.5,609.8 287.5,608.4 291.5,611.4 294.5,614.7 298.5,619.9 302.5,623.3 305.5,606.0 309.5,599.9 312.5,599.7 316.5,602.5 319.5,596.1 323.5,599.5 327.5,603.5 330.5,607.4 334.5,609.8 337.5,600.5 341.5,580.7 345.5,577.1 348.5,580.3 352.5,574.8 355.5,577.7 359.5,575.2 363.5,567.8 366.5,574.2 370.5,572.4 373.5,571.2 377.5,570.2 381.5,568.4 384.5,565.5 388.5,566.5 391.5,568.8 395.5,572.8 398.5,568.2 402.5,599.9 406.5,588.6 409.5,578.7 413.5,571.8 416.5,571.2 420.5,573.4 424.5,583.3 427.5,584.3 431.5,588.2 434.5,595.2 438.5,597.5 442.5,592.6 445.5,599.5 449.5,595.5 452.5,594.0 456.5,593.2 460.5,605.4 463.5,596.9 467.5,600.5 470.5,613.4 474.5,624.2 477.5,609.4 481.5,619.3 485.5,621.9 488.5,624.2 492.5,616.3 495.5,615.7 499.5,615.9 503.5,619.3 506.5,615.3 510.5,613.4 513.5,613.0 517.5,599.5 521.5,601.5 524.5,590.6 528.5,583.7 531.5,575.4 535.5,582.7 539.5,580.3 542.5,585.7 546.5,582.7 549.5,585.7 553.5,587.0 556.5,584.5 560.5,586.6 564.5,583.3 567.5,588.6 571.5,586.6 574.5,600.1 578.5,606.0 582.5,605.0 585.5,609.0" fill="none" stroke="#ff7f0e" stroke-width="1.12" stroke-linejoin="round"/>
<rect x="0" y="556" width="134" height="17" fill="#fff"/>
<rect x="7.5" y="564" width="9" height="3" rx="1" fill="#ff7400"/>
<text stroke="#ff7400" stroke-width="0.14" x="23" y="568.8" text-anchor="start" fill="#ff7400" xml:space="preserve">RSI(14)&#160; 49,90</text>
<rect x="103" y="558" width="14" height="14" rx="3.2" fill="#efefef"/><circle cx="110" cy="565" r="3.05" fill="none" stroke="#fff" stroke-width="2.1"/>
<rect x="118.85" y="558" width="14" height="14" rx="3.2" fill="#efefef"/><path d="M121.94999999999999,561.1 L129.75,568.9 M129.75,561.1 L121.94999999999999,568.9" stroke="#fff" stroke-width="2.0" fill="none"/>
<text stroke="#000" stroke-width="0.14" x="751.8" y="572.2" text-anchor="end" fill="#000" >75,00</text>
<rect x="752.7" y="568" width="4.3" height="1" fill="#000"/>
<text stroke="#000" stroke-width="0.14" x="751.8" y="612.9" text-anchor="end" fill="#000" >50,00</text>
<rect x="752.7" y="609" width="4.3" height="1" fill="#000"/>
<polygon points="713.5,576.5 721.8,568.4 760,568.4 760,584.6 721.8,584.6" fill="#fff" fill-opacity="0.88" stroke="#20b020" stroke-width="1.25"/><text stroke="#000" stroke-width="0.14" x="739.0" y="580.8" text-anchor="middle" fill="#000" >70,00</text>
<polygon points="713.5,642.5 721.8,634.4 760,634.4 760,650.6 721.8,650.6" fill="#fff" fill-opacity="0.88" stroke="#b02020" stroke-width="1.25"/><text stroke="#000" stroke-width="0.14" x="739.0" y="646.8" text-anchor="middle" fill="#000" >30,00</text><clipPath id="upc"><rect x="0" y="651.3" width="699" height="32.200000000000045"/></clipPath>
<clipPath id="dnc"><rect x="0" y="717.5" width="699" height="32.5"/></clipPath>
<polygon points="0.5,683.5 0.5,716.9 3.5,705.0 7.5,701.5 11.5,703.9 14.5,709.8 18.5,707.4 21.5,690.0 25.5,684.7 29.5,671.8 32.5,668.5 36.5,671.8 39.5,673.8 43.5,679.7 47.5,684.1 50.5,684.7 54.5,692.6 57.5,692.0 61.5,694.5 65.5,697.9 68.5,705.0 72.5,711.8 75.5,717.3 79.5,717.9 82.5,715.3 86.5,729.8 90.5,732.2 93.5,722.3 97.5,720.3 100.5,716.9 104.5,713.0 108.5,709.0 111.5,711.4 115.5,714.3 118.5,711.8 122.5,710.4 126.5,708.4 129.5,704.4 133.5,701.1 137.5,697.5 140.5,690.2 144.5,691.6 147.5,694.2 151.5,687.6 154.5,678.3 158.5,679.3 161.5,675.4 165.5,677.3 169.5,671.4 172.5,678.7 176.5,685.2 179.5,676.7 183.5,675.7 187.5,678.3 190.5,676.1 194.5,673.4 197.5,673.8 201.5,675.7 205.5,662.3 208.5,668.8 212.5,662.3 215.5,667.4 219.5,671.2 223.5,673.4 226.5,676.7 230.5,680.3 233.5,683.3 237.5,685.6 240.5,687.2 244.5,689.2 248.5,690.0 251.5,690.2 255.5,691.0 258.5,693.6 262.5,695.5 266.5,691.2 269.5,692.2 273.5,682.3 276.5,683.3 280.5,713.3 284.5,741.4 287.5,739.1 291.5,728.8 294.5,730.2 298.5,727.2 302.5,728.6 305.5,717.3 309.5,704.4 312.5,700.5 316.5,701.5 319.5,698.5 323.5,696.5 327.5,701.5 330.5,703.5 334.5,708.0 337.5,697.5 341.5,670.8 345.5,659.5 348.5,662.5 352.5,666.8 355.5,672.4 359.5,676.1 363.5,675.4 366.5,678.7 370.5,680.3 373.5,681.3 377.5,682.1 381.5,682.7 384.5,682.7 388.5,683.1 391.5,684.7 395.5,686.6 398.5,687.6 402.5,694.2 406.5,692.2 409.5,678.7 413.5,666.2 416.5,665.5 420.5,671.8 424.5,679.7 427.5,683.7 431.5,692.2 434.5,694.2 438.5,698.1 442.5,695.1 445.5,699.5 449.5,698.1 452.5,696.5 456.5,693.6 460.5,704.4 463.5,705.0 467.5,702.5 470.5,715.3 474.5,737.1 477.5,727.2 481.5,727.6 485.5,731.2 488.5,731.6 492.5,720.3 495.5,714.9 499.5,713.3 503.5,713.9 506.5,711.4 510.5,708.8 513.5,707.4 517.5,691.2 521.5,692.2 524.5,680.3 528.5,667.8 531.5,664.3 535.5,668.8 539.5,672.2 542.5,678.7 546.5,681.3 549.5,684.3 553.5,685.6 556.5,687.0 560.5,687.6 564.5,687.8 567.5,689.4 571.5,690.2 574.5,694.5 578.5,701.5 582.5,703.1 585.5,710.0 585.5,683.5" fill="#a5eaa5" clip-path="url(#upc)"/>
<polygon points="0.5,717.5 0.5,716.9 3.5,705.0 7.5,701.5 11.5,703.9 14.5,709.8 18.5,707.4 21.5,690.0 25.5,684.7 29.5,671.8 32.5,668.5 36.5,671.8 39.5,673.8 43.5,679.7 47.5,684.1 50.5,684.7 54.5,692.6 57.5,692.0 61.5,694.5 65.5,697.9 68.5,705.0 72.5,711.8 75.5,717.3 79.5,717.9 82.5,715.3 86.5,729.8 90.5,732.2 93.5,722.3 97.5,720.3 100.5,716.9 104.5,713.0 108.5,709.0 111.5,711.4 115.5,714.3 118.5,711.8 122.5,710.4 126.5,708.4 129.5,704.4 133.5,701.1 137.5,697.5 140.5,690.2 144.5,691.6 147.5,694.2 151.5,687.6 154.5,678.3 158.5,679.3 161.5,675.4 165.5,677.3 169.5,671.4 172.5,678.7 176.5,685.2 179.5,676.7 183.5,675.7 187.5,678.3 190.5,676.1 194.5,673.4 197.5,673.8 201.5,675.7 205.5,662.3 208.5,668.8 212.5,662.3 215.5,667.4 219.5,671.2 223.5,673.4 226.5,676.7 230.5,680.3 233.5,683.3 237.5,685.6 240.5,687.2 244.5,689.2 248.5,690.0 251.5,690.2 255.5,691.0 258.5,693.6 262.5,695.5 266.5,691.2 269.5,692.2 273.5,682.3 276.5,683.3 280.5,713.3 284.5,741.4 287.5,739.1 291.5,728.8 294.5,730.2 298.5,727.2 302.5,728.6 305.5,717.3 309.5,704.4 312.5,700.5 316.5,701.5 319.5,698.5 323.5,696.5 327.5,701.5 330.5,703.5 334.5,708.0 337.5,697.5 341.5,670.8 345.5,659.5 348.5,662.5 352.5,666.8 355.5,672.4 359.5,676.1 363.5,675.4 366.5,678.7 370.5,680.3 373.5,681.3 377.5,682.1 381.5,682.7 384.5,682.7 388.5,683.1 391.5,684.7 395.5,686.6 398.5,687.6 402.5,694.2 406.5,692.2 409.5,678.7 413.5,666.2 416.5,665.5 420.5,671.8 424.5,679.7 427.5,683.7 431.5,692.2 434.5,694.2 438.5,698.1 442.5,695.1 445.5,699.5 449.5,698.1 452.5,696.5 456.5,693.6 460.5,704.4 463.5,705.0 467.5,702.5 470.5,715.3 474.5,737.1 477.5,727.2 481.5,727.6 485.5,731.2 488.5,731.6 492.5,720.3 495.5,714.9 499.5,713.3 503.5,713.9 506.5,711.4 510.5,708.8 513.5,707.4 517.5,691.2 521.5,692.2 524.5,680.3 528.5,667.8 531.5,664.3 535.5,668.8 539.5,672.2 542.5,678.7 546.5,681.3 549.5,684.3 553.5,685.6 556.5,687.0 560.5,687.6 564.5,687.8 567.5,689.4 571.5,690.2 574.5,694.5 578.5,701.5 582.5,703.1 585.5,710.0 585.5,717.5" fill="#f0a5a5" clip-path="url(#dnc)"/>
<rect x="0" y="683.0" width="707" height="1" fill="#808080"/>
<rect x="0" y="717.0" width="707" height="1" fill="#808080"/>
<polyline points="0.5,716.9 3.5,705.0 7.5,701.5 11.5,703.9 14.5,709.8 18.5,707.4 21.5,690.0 25.5,684.7 29.5,671.8 32.5,668.5 36.5,671.8 39.5,673.8 43.5,679.7 47.5,684.1 50.5,684.7 54.5,692.6 57.5,692.0 61.5,694.5 65.5,697.9 68.5,705.0 72.5,711.8 75.5,717.3 79.5,717.9 82.5,715.3 86.5,729.8 90.5,732.2 93.5,722.3 97.5,720.3 100.5,716.9 104.5,713.0 108.5,709.0 111.5,711.4 115.5,714.3 118.5,711.8 122.5,710.4 126.5,708.4 129.5,704.4 133.5,701.1 137.5,697.5 140.5,690.2 144.5,691.6 147.5,694.2 151.5,687.6 154.5,678.3 158.5,679.3 161.5,675.4 165.5,677.3 169.5,671.4 172.5,678.7 176.5,685.2 179.5,676.7 183.5,675.7 187.5,678.3 190.5,676.1 194.5,673.4 197.5,673.8 201.5,675.7 205.5,662.3 208.5,668.8 212.5,662.3 215.5,667.4 219.5,671.2 223.5,673.4 226.5,676.7 230.5,680.3 233.5,683.3 237.5,685.6 240.5,687.2 244.5,689.2 248.5,690.0 251.5,690.2 255.5,691.0 258.5,693.6 262.5,695.5 266.5,691.2 269.5,692.2 273.5,682.3 276.5,683.3 280.5,713.3 284.5,741.4 287.5,739.1 291.5,728.8 294.5,730.2 298.5,727.2 302.5,728.6 305.5,717.3 309.5,704.4 312.5,700.5 316.5,701.5 319.5,698.5 323.5,696.5 327.5,701.5 330.5,703.5 334.5,708.0 337.5,697.5 341.5,670.8 345.5,659.5 348.5,662.5 352.5,666.8 355.5,672.4 359.5,676.1 363.5,675.4 366.5,678.7 370.5,680.3 373.5,681.3 377.5,682.1 381.5,682.7 384.5,682.7 388.5,683.1 391.5,684.7 395.5,686.6 398.5,687.6 402.5,694.2 406.5,692.2 409.5,678.7 413.5,666.2 416.5,665.5 420.5,671.8 424.5,679.7 427.5,683.7 431.5,692.2 434.5,694.2 438.5,698.1 442.5,695.1 445.5,699.5 449.5,698.1 452.5,696.5 456.5,693.6 460.5,704.4 463.5,705.0 467.5,702.5 470.5,715.3 474.5,737.1 477.5,727.2 481.5,727.6 485.5,731.2 488.5,731.6 492.5,720.3 495.5,714.9 499.5,713.3 503.5,713.9 506.5,711.4 510.5,708.8 513.5,707.4 517.5,691.2 521.5,692.2 524.5,680.3 528.5,667.8 531.5,664.3 535.5,668.8 539.5,672.2 542.5,678.7 546.5,681.3 549.5,684.3 553.5,685.6 556.5,687.0 560.5,687.6 564.5,687.8 567.5,689.4 571.5,690.2 574.5,694.5 578.5,701.5 582.5,703.1 585.5,710.0" fill="none" stroke="#ff7f0e" stroke-width="1.12" stroke-linejoin="round"/>
<rect x="0" y="655.3" width="164" height="17" fill="#fff"/>
<rect x="7.5" y="663.3" width="9" height="3" rx="1" fill="#ff7400"/>
<text stroke="#ff7400" stroke-width="0.14" x="23" y="668.0999999999999" text-anchor="start" fill="#ff7400" xml:space="preserve">CCI(20, hlc3)&#160; -58,05</text>
<rect x="133" y="657" width="14" height="14" rx="3.2" fill="#efefef"/><circle cx="140" cy="664" r="3.05" fill="none" stroke="#fff" stroke-width="2.1"/>
<rect x="148.85" y="657" width="14" height="14" rx="3.2" fill="#efefef"/><path d="M151.95,660.1 L159.75,667.9 M159.75,660.1 L151.95,667.9" stroke="#fff" stroke-width="2.0" fill="none"/>
<text stroke="#000" stroke-width="0.14" x="751.8" y="670.4" text-anchor="end" fill="#000" >200,00</text>
<rect x="752.7" y="666" width="4.3" height="1" fill="#000"/>
<text stroke="#000" stroke-width="0.14" x="751.8" y="703.6" text-anchor="end" fill="#000" >0,00</text>
<rect x="752.7" y="700" width="4.3" height="1" fill="#000"/>
<text stroke="#000" stroke-width="0.14" x="751.8" y="737.9" text-anchor="end" fill="#000" >-200,00</text>
<rect x="752.7" y="734" width="4.3" height="1" fill="#000"/>
<polygon points="707,683.5 715.3,675.4 760,675.4 760,691.6 715.3,691.6" fill="#fff" fill-opacity="0.88" stroke="#20b020" stroke-width="1.25"/><text stroke="#000" stroke-width="0.14" x="735.8" y="687.8" text-anchor="middle" fill="#000" >100,00</text>
<polygon points="707,717.5 715.3,709.4 760,709.4 760,725.6 715.3,725.6" fill="#fff" fill-opacity="0.88" stroke="#b02020" stroke-width="1.25"/><text stroke="#000" stroke-width="0.14" x="735.8" y="721.8" text-anchor="middle" fill="#000" >-100,00</text><clipPath id="upo"><rect x="0" y="750" width="699" height="24.5"/></clipPath>
<clipPath id="dno"><rect x="0" y="824.5" width="699" height="25.5"/></clipPath>
<polygon points="0.5,774.5 0.5,814.9 3.5,795.9 7.5,801.9 11.5,802.5 14.5,810.4 18.5,801.5 21.5,772.8 25.5,768.5 29.5,767.0 32.5,766.5 36.5,766.5 39.5,766.5 43.5,767.0 47.5,772.0 50.5,783.7 54.5,793.6 57.5,782.7 61.5,794.5 65.5,802.5 68.5,822.8 72.5,830.2 75.5,840.1 79.5,836.1 82.5,826.8 86.5,834.1 90.5,828.2 93.5,819.9 97.5,828.8 100.5,819.3 104.5,813.0 108.5,803.1 111.5,817.3 115.5,819.9 118.5,803.1 122.5,807.4 126.5,793.6 129.5,785.6 133.5,783.7 137.5,774.4 140.5,780.2 144.5,783.7 147.5,781.7 151.5,774.4 154.5,761.5 158.5,783.3 161.5,764.5 165.5,773.2 169.5,771.2 172.5,788.6 176.5,797.9 179.5,775.7 183.5,771.4 187.5,770.8 190.5,760.9 194.5,758.3 197.5,758.9 201.5,759.3 205.5,758.3 208.5,762.9 212.5,758.3 215.5,768.8 219.5,763.5 223.5,758.3 226.5,760.3 230.5,763.3 233.5,761.5 237.5,762.9 240.5,765.5 244.5,771.8 248.5,768.4 251.5,772.2 255.5,770.8 258.5,789.6 262.5,797.9 266.5,786.0 269.5,800.5 273.5,762.9 276.5,761.3 280.5,833.7 284.5,824.6 287.5,819.9 291.5,825.2 294.5,830.2 298.5,837.5 302.5,835.7 305.5,805.0 309.5,795.1 312.5,794.5 316.5,798.5 319.5,788.0 323.5,791.6 327.5,795.5 330.5,785.2 334.5,789.0 337.5,769.4 341.5,761.9 345.5,763.5 348.5,767.2 352.5,758.9 355.5,763.5 359.5,764.3 363.5,761.3 366.5,766.8 370.5,762.3 373.5,761.3 377.5,765.5 381.5,762.3 384.5,758.3 388.5,758.9 391.5,765.9 395.5,771.4 398.5,759.5 402.5,810.4 406.5,771.8 409.5,759.9 413.5,767.4 416.5,766.4 420.5,769.8 424.5,782.3 427.5,783.5 431.5,788.6 434.5,797.5 438.5,800.5 442.5,790.6 445.5,800.1 449.5,793.6 452.5,791.6 456.5,801.5 460.5,832.2 463.5,800.5 467.5,802.5 470.5,832.7 474.5,836.7 477.5,795.5 481.5,826.2 485.5,836.1 488.5,828.8 492.5,813.0 495.5,811.4 499.5,811.4 503.5,819.3 506.5,810.0 510.5,806.4 513.5,805.8 517.5,775.7 521.5,768.2 524.5,761.5 528.5,771.8 531.5,760.9 535.5,767.2 539.5,763.3 542.5,770.4 546.5,763.5 549.5,766.8 553.5,768.2 556.5,763.5 560.5,765.9 564.5,762.1 567.5,768.5 571.5,765.5 574.5,797.9 578.5,830.2 582.5,827.2 585.5,829.2 585.5,774.5" fill="#a5eaa5" clip-path="url(#upo)"/>
<polygon points="0.5,824.5 0.5,814.9 3.5,795.9 7.5,801.9 11.5,802.5 14.5,810.4 18.5,801.5 21.5,772.8 25.5,768.5 29.5,767.0 32.5,766.5 36.5,766.5 39.5,766.5 43.5,767.0 47.5,772.0 50.5,783.7 54.5,793.6 57.5,782.7 61.5,794.5 65.5,802.5 68.5,822.8 72.5,830.2 75.5,840.1 79.5,836.1 82.5,826.8 86.5,834.1 90.5,828.2 93.5,819.9 97.5,828.8 100.5,819.3 104.5,813.0 108.5,803.1 111.5,817.3 115.5,819.9 118.5,803.1 122.5,807.4 126.5,793.6 129.5,785.6 133.5,783.7 137.5,774.4 140.5,780.2 144.5,783.7 147.5,781.7 151.5,774.4 154.5,761.5 158.5,783.3 161.5,764.5 165.5,773.2 169.5,771.2 172.5,788.6 176.5,797.9 179.5,775.7 183.5,771.4 187.5,770.8 190.5,760.9 194.5,758.3 197.5,758.9 201.5,759.3 205.5,758.3 208.5,762.9 212.5,758.3 215.5,768.8 219.5,763.5 223.5,758.3 226.5,760.3 230.5,763.3 233.5,761.5 237.5,762.9 240.5,765.5 244.5,771.8 248.5,768.4 251.5,772.2 255.5,770.8 258.5,789.6 262.5,797.9 266.5,786.0 269.5,800.5 273.5,762.9 276.5,761.3 280.5,833.7 284.5,824.6 287.5,819.9 291.5,825.2 294.5,830.2 298.5,837.5 302.5,835.7 305.5,805.0 309.5,795.1 312.5,794.5 316.5,798.5 319.5,788.0 323.5,791.6 327.5,795.5 330.5,785.2 334.5,789.0 337.5,769.4 341.5,761.9 345.5,763.5 348.5,767.2 352.5,758.9 355.5,763.5 359.5,764.3 363.5,761.3 366.5,766.8 370.5,762.3 373.5,761.3 377.5,765.5 381.5,762.3 384.5,758.3 388.5,758.9 391.5,765.9 395.5,771.4 398.5,759.5 402.5,810.4 406.5,771.8 409.5,759.9 413.5,767.4 416.5,766.4 420.5,769.8 424.5,782.3 427.5,783.5 431.5,788.6 434.5,797.5 438.5,800.5 442.5,790.6 445.5,800.1 449.5,793.6 452.5,791.6 456.5,801.5 460.5,832.2 463.5,800.5 467.5,802.5 470.5,832.7 474.5,836.7 477.5,795.5 481.5,826.2 485.5,836.1 488.5,828.8 492.5,813.0 495.5,811.4 499.5,811.4 503.5,819.3 506.5,810.0 510.5,806.4 513.5,805.8 517.5,775.7 521.5,768.2 524.5,761.5 528.5,771.8 531.5,760.9 535.5,767.2 539.5,763.3 542.5,770.4 546.5,763.5 549.5,766.8 553.5,768.2 556.5,763.5 560.5,765.9 564.5,762.1 567.5,768.5 571.5,765.5 574.5,797.9 578.5,830.2 582.5,827.2 585.5,829.2 585.5,824.5" fill="#f0a5a5" clip-path="url(#dno)"/>
<rect x="0" y="774.0" width="707" height="1" fill="#000"/>
<rect x="0" y="824.0" width="707" height="1" fill="#000"/>
<polyline points="0.5,814.9 3.5,795.9 7.5,801.9 11.5,802.5 14.5,810.4 18.5,801.5 21.5,772.8 25.5,768.5 29.5,767.0 32.5,766.5 36.5,766.5 39.5,766.5 43.5,767.0 47.5,772.0 50.5,783.7 54.5,793.6 57.5,782.7 61.5,794.5 65.5,802.5 68.5,822.8 72.5,830.2 75.5,840.1 79.5,836.1 82.5,826.8 86.5,834.1 90.5,828.2 93.5,819.9 97.5,828.8 100.5,819.3 104.5,813.0 108.5,803.1 111.5,817.3 115.5,819.9 118.5,803.1 122.5,807.4 126.5,793.6 129.5,785.6 133.5,783.7 137.5,774.4 140.5,780.2 144.5,783.7 147.5,781.7 151.5,774.4 154.5,761.5 158.5,783.3 161.5,764.5 165.5,773.2 169.5,771.2 172.5,788.6 176.5,797.9 179.5,775.7 183.5,771.4 187.5,770.8 190.5,760.9 194.5,758.3 197.5,758.9 201.5,759.3 205.5,758.3 208.5,762.9 212.5,758.3 215.5,768.8 219.5,763.5 223.5,758.3 226.5,760.3 230.5,763.3 233.5,761.5 237.5,762.9 240.5,765.5 244.5,771.8 248.5,768.4 251.5,772.2 255.5,770.8 258.5,789.6 262.5,797.9 266.5,786.0 269.5,800.5 273.5,762.9 276.5,761.3 280.5,833.7 284.5,824.6 287.5,819.9 291.5,825.2 294.5,830.2 298.5,837.5 302.5,835.7 305.5,805.0 309.5,795.1 312.5,794.5 316.5,798.5 319.5,788.0 323.5,791.6 327.5,795.5 330.5,785.2 334.5,789.0 337.5,769.4 341.5,761.9 345.5,763.5 348.5,767.2 352.5,758.9 355.5,763.5 359.5,764.3 363.5,761.3 366.5,766.8 370.5,762.3 373.5,761.3 377.5,765.5 381.5,762.3 384.5,758.3 388.5,758.9 391.5,765.9 395.5,771.4 398.5,759.5 402.5,810.4 406.5,771.8 409.5,759.9 413.5,767.4 416.5,766.4 420.5,769.8 424.5,782.3 427.5,783.5 431.5,788.6 434.5,797.5 438.5,800.5 442.5,790.6 445.5,800.1 449.5,793.6 452.5,791.6 456.5,801.5 460.5,832.2 463.5,800.5 467.5,802.5 470.5,832.7 474.5,836.7 477.5,795.5 481.5,826.2 485.5,836.1 488.5,828.8 492.5,813.0 495.5,811.4 499.5,811.4 503.5,819.3 506.5,810.0 510.5,806.4 513.5,805.8 517.5,775.7 521.5,768.2 524.5,761.5 528.5,771.8 531.5,760.9 535.5,767.2 539.5,763.3 542.5,770.4 546.5,763.5 549.5,766.8 553.5,768.2 556.5,763.5 560.5,765.9 564.5,762.1 567.5,768.5 571.5,765.5 574.5,797.9 578.5,830.2 582.5,827.2 585.5,829.2" fill="none" stroke="#1010b0" stroke-width="1.12" stroke-linejoin="round"/>
<rect x="0" y="754" width="147.5" height="17" fill="#fff"/>
<rect x="7.5" y="762" width="9" height="3" rx="1" fill="#00009c"/>
<text stroke="#00009c" stroke-width="0.14" x="23" y="766.8" text-anchor="start" fill="#00009c" xml:space="preserve">OBOS(14)&#160; 13,66</text>
<rect x="116.5" y="756" width="14" height="14" rx="3.2" fill="#efefef"/><circle cx="123.5" cy="763" r="3.05" fill="none" stroke="#fff" stroke-width="2.1"/>
<rect x="132.35" y="756" width="14" height="14" rx="3.2" fill="#efefef"/><path d="M135.45,759.1 L143.25,766.9 M143.25,759.1 L135.45,766.9" stroke="#fff" stroke-width="2.0" fill="none"/>
<text stroke="#000" stroke-width="0.14" x="751.8" y="762.3" text-anchor="end" fill="#000" >100,00</text>
<rect x="752.7" y="758" width="4.3" height="1" fill="#000"/>
<text stroke="#000" stroke-width="0.14" x="751.8" y="803.3" text-anchor="end" fill="#000" >50,00</text>
<rect x="752.7" y="799" width="4.3" height="1" fill="#000"/>
<text stroke="#000" stroke-width="0.14" x="751.8" y="844.8" text-anchor="end" fill="#000" >0,00</text>
<rect x="752.7" y="841" width="4.3" height="1" fill="#000"/>
<polygon points="707,774.5 715.3,766.4 760,766.4 760,782.6 715.3,782.6" fill="#fff" fill-opacity="0.88" stroke="#20b020" stroke-width="1.25"/><text stroke="#000" stroke-width="0.14" x="735.8" y="778.8" text-anchor="middle" fill="#000" >80,00</text>
<polygon points="707,824.5 715.3,816.4 760,816.4 760,832.6 715.3,832.6" fill="#fff" fill-opacity="0.88" stroke="#b02020" stroke-width="1.25"/><text stroke="#000" stroke-width="0.14" x="735.8" y="828.8" text-anchor="middle" fill="#000" >20,00</text>
</svg>
</body></html>
